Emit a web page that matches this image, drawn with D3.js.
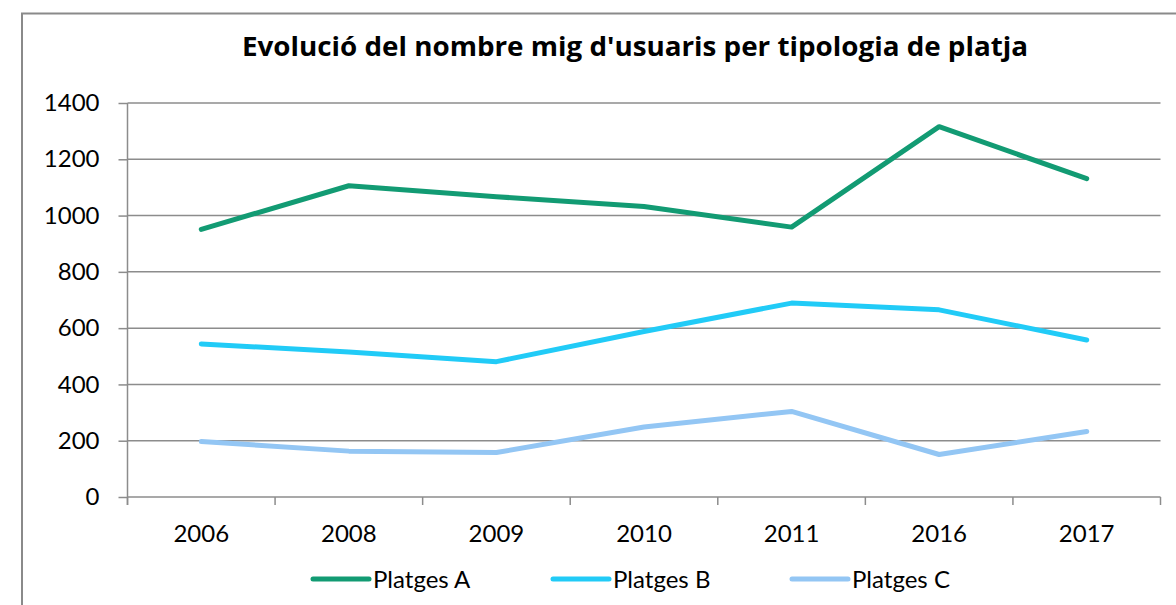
<!DOCTYPE html>
<html>
<head>
<meta charset="utf-8">
<script src="https://cdn.jsdelivr.net/npm/d3@7"></script>
<style>
  body { margin: 0; background: #fff; }
  svg text { font-family: Lato, "Open Sans", sans-serif; fill: #000; }
</style>
</head>
<body>
<div id="canvas"></div>
<script>
// data
const years = ["2006", "2008", "2009", "2010", "2011", "2016", "2017"];
const platgesA = [951, 1106, 1067, 1032, 959, 1316, 1131];
const platgesB = [544, 515, 481, 588, 689, 665, 558];
const platgesC = [197, 163, 158, 249, 304, 151, 233];
const seriesNames = ["Platges A", "Platges B", "Platges C"];
const yTicks = [0, 200, 400, 600, 800, 1000, 1200, 1400];
const title = "Evolució del nombre mig d'usuaris per tipologia de platja";

const colors = ["#129b73", "#21cbf7", "#93c6f4"];
const series = [platgesA, platgesB, platgesC];

const width = 1176;
const height = 605;
const margin = { top: 103, left: 127.5, bottom: 108, right: 15.5 };
const iwidth = width - margin.left - margin.right;
const iheight = height - margin.top - margin.bottom;

const svg = d3.select("#canvas").append("svg")
  .attr("width", width)
  .attr("height", height);

// chart frame (only left and top edges are visible in the picture)
svg.append("path")
  .attr("d", `M22,${height + 5}V13.5H${width + 5}`)
  .attr("fill", "none")
  .attr("stroke", "#8a8a8a")
  .attr("stroke-width", 2);

svg.append("text")
  .attr("x", 635)
  .attr("y", 56)
  .attr("text-anchor", "middle")
  .attr("textLength", 786)
  .attr("lengthAdjust", "spacingAndGlyphs")
  .style("font-family", "'Open Sans', sans-serif")
  .style("font-weight", "bold")
  .style("font-size", "27px")
  .text(title);

const g = svg.append("g")
  .attr("transform", `translate(${margin.left},${margin.top})`);

const x = d3.scaleBand().domain(years).range([0, iwidth]);
const y = d3.scaleLinear().domain([0, 1400]).range([iheight, 0]);

// gridlines
g.append("g")
  .selectAll("line")
  .data(yTicks.slice(1))
  .join("line")
  .attr("x1", 0)
  .attr("x2", iwidth)
  .attr("y1", d => y(d))
  .attr("y2", d => y(d))
  .attr("stroke", "#8c8c8c")
  .attr("stroke-width", 1.5);

// y axis
const yAxis = g.append("g")
  .call(d3.axisLeft(y).tickValues(yTicks).tickFormat(d3.format("d"))
    .tickSize(9).tickPadding(19).tickSizeOuter(0));
yAxis.select(".domain").attr("stroke", "#8c8c8c").attr("stroke-width", 1.5)
  .attr("d", `M0,${iheight + 8}V0`);
yAxis.selectAll(".tick line").attr("stroke", "#8c8c8c").attr("stroke-width", 1.5);
yAxis.selectAll(".tick text")
  .style("font-size", "24px")
  .style("font-family", "Lato, sans-serif")
  .attr("fill", "#000");

// x axis: ticks sit on the band edges
const xAxis = g.append("g")
  .attr("transform", `translate(0,${iheight})`);
xAxis.append("line")
  .attr("x1", 0).attr("x2", iwidth)
  .attr("stroke", "#8c8c8c").attr("stroke-width", 1.5);
xAxis.selectAll(".edge")
  .data(years.concat(["end"]))
  .join("line")
  .attr("class", "edge")
  .attr("x1", (d, i) => i < years.length ? x(d) : iwidth)
  .attr("x2", (d, i) => i < years.length ? x(d) : iwidth)
  .attr("y1", 0).attr("y2", 8)
  .attr("stroke", "#8c8c8c").attr("stroke-width", 1.5);
xAxis.selectAll(".lbl")
  .data(years)
  .join("text")
  .attr("class", "lbl")
  .attr("x", d => x(d) + x.bandwidth() / 2)
  .attr("y", 45)
  .attr("text-anchor", "middle")
  .style("font-size", "24px")
  .text(d => d);

// lines
const line = d3.line()
  .x((d, i) => x(years[i]) + x.bandwidth() / 2)
  .y(d => y(d));

g.selectAll(".series")
  .data(series)
  .join("path")
  .attr("class", "series")
  .attr("d", d => line(d))
  .attr("fill", "none")
  .attr("stroke", (d, i) => colors[i])
  .attr("stroke-width", 5)
  .attr("stroke-linecap", "round")
  .attr("stroke-linejoin", "round");

// legend
const legendX = [313, 553, 792];
const legend = svg.append("g").selectAll("g")
  .data(seriesNames)
  .join("g")
  .attr("transform", (d, i) => `translate(${legendX[i]},579)`);
legend.append("line")
  .attr("x1", 0).attr("x2", 56)
  .attr("stroke", (d, i) => colors[i])
  .attr("stroke-width", 5)
  .attr("stroke-linecap", "round");
legend.append("text")
  .attr("x", 60)
  .attr("y", 9)
  .style("font-size", "24px")
  .text(d => d);
</script>
</body>
</html>
